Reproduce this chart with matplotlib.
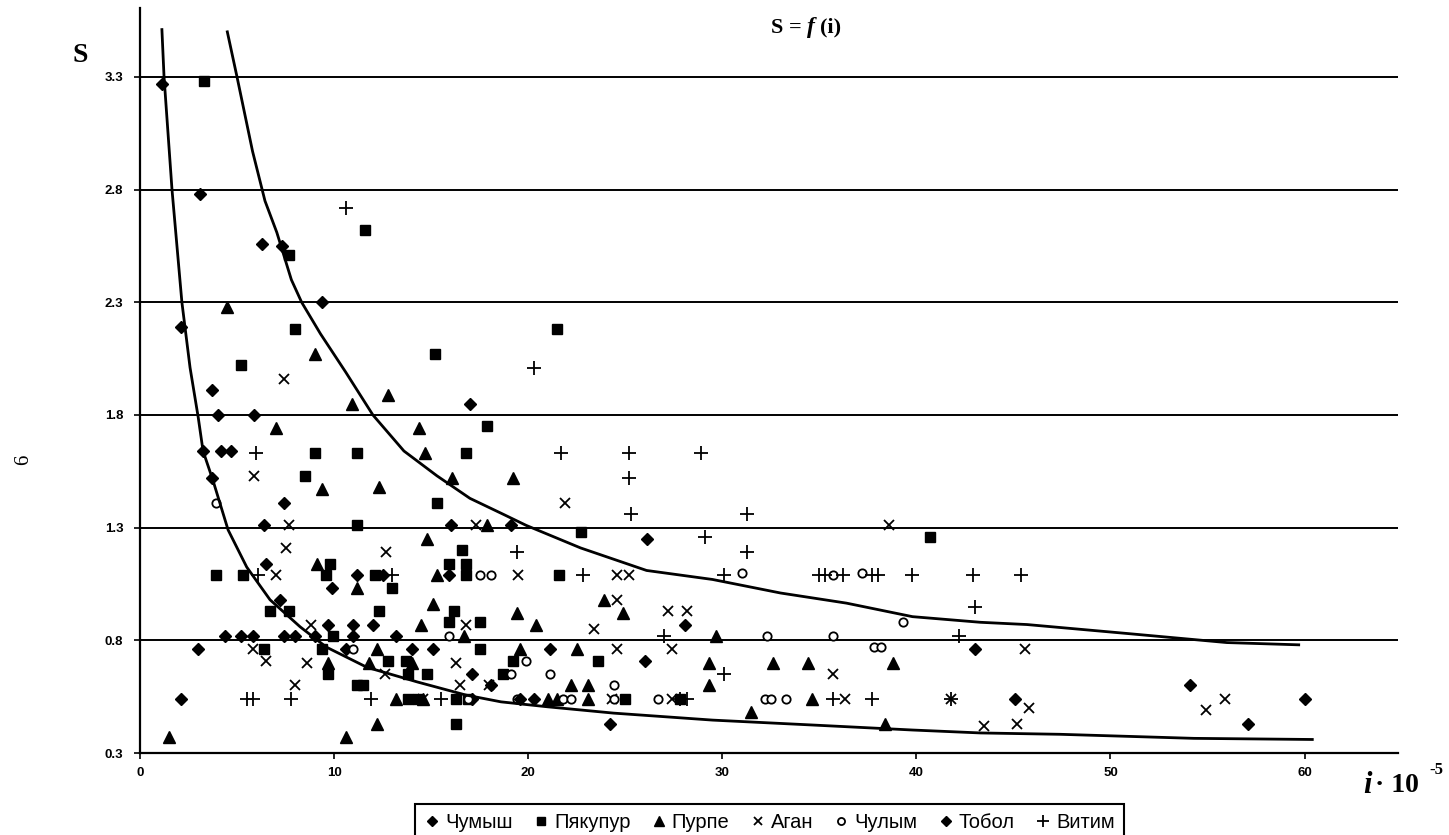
import matplotlib
matplotlib.use('Agg')
import matplotlib.pyplot as plt
from matplotlib.lines import Line2D

# --- scatter data (i*10^-5, S) ---
chumysh_x = [1.13, 3.1, 6.3, 7.3, 9.4, 2.1, 3.7, 17.0, 4.0, 5.9, 3.25, 4.2, 4.7, 3.7, 7.4, 6.4, 6.5,
             7.2, 9.9, 11.2, 12.5, 9.7, 11.0, 12.0, 16.0, 19.1, 15.9, 3.0, 2.1, 4.4, 5.2, 5.8, 7.4,
             8.0, 9.0, 11.0, 13.2, 10.6, 14.0, 15.1, 17.1, 18.1, 17.1]
chumysh_s = [3.27, 2.78, 2.56, 2.55, 2.30, 2.19, 1.91, 1.85, 1.80, 1.80, 1.64, 1.64, 1.64, 1.52, 1.41, 1.31, 1.14,
             0.98, 1.03, 1.09, 1.09, 0.87, 0.87, 0.87, 1.31, 1.31, 1.09, 0.76, 0.54, 0.82, 0.82, 0.82, 0.82,
             0.82, 0.82, 0.82, 0.82, 0.76, 0.76, 0.76, 0.65, 0.60, 0.54]

pyakupur_x = [3.3, 7.7, 11.6, 8.0, 5.2, 15.2, 21.5, 17.9, 9.0, 11.2, 16.8, 8.5, 15.3, 11.2, 16.6, 15.9,
              16.8, 9.8, 3.9, 5.3, 9.6, 16.8, 13.0, 6.7, 7.7, 12.3, 16.2, 15.9, 17.5, 9.95, 6.4, 9.4,
              17.5, 9.7, 12.8, 13.8, 14.8, 11.2, 11.5, 16.3, 13.8, 14.3, 16.3, 16.9, 22.7, 21.6, 40.7,
              23.6, 19.2, 18.7, 25.0, 27.8, 13.7, 12.1]
pyakupur_s = [3.28, 2.51, 2.62, 2.18, 2.02, 2.07, 2.18, 1.75, 1.63, 1.63, 1.63, 1.53, 1.41, 1.31, 1.20, 1.14,
              1.14, 1.14, 1.09, 1.09, 1.09, 1.09, 1.03, 0.93, 0.93, 0.93, 0.93, 0.88, 0.88, 0.82, 0.76, 0.76,
              0.76, 0.65, 0.71, 0.65, 0.65, 0.60, 0.60, 0.43, 0.54, 0.54, 0.54, 0.54, 1.28, 1.09, 1.26,
              0.71, 0.71, 0.65, 0.54, 0.54, 0.71, 1.09]

purpe_x = [4.5, 9.0, 12.8, 10.9, 7.0, 14.4, 14.7, 16.1, 9.4, 12.3, 17.9, 14.8, 9.1, 11.2, 15.3, 15.1,
           14.5, 16.7, 12.2, 9.7, 11.8, 14.0, 13.2, 14.6, 12.2, 10.6, 1.5, 19.2, 23.9, 24.9, 19.4, 20.4,
           29.7, 19.6, 22.5, 29.3, 32.6, 34.4, 38.8, 29.3, 22.2, 23.1, 23.1, 34.6, 31.5, 38.4, 21.0, 21.5]
purpe_s = [2.28, 2.07, 1.89, 1.85, 1.74, 1.74, 1.63, 1.52, 1.47, 1.48, 1.31, 1.25, 1.14, 1.03, 1.09, 0.96,
           0.87, 0.82, 0.76, 0.70, 0.70, 0.70, 0.54, 0.54, 0.43, 0.37, 0.37, 1.52, 0.98, 0.92, 0.92, 0.87,
           0.82, 0.76, 0.76, 0.70, 0.70, 0.70, 0.70, 0.60, 0.60, 0.60, 0.54, 0.54, 0.48, 0.43, 0.54, 0.54]

agan_x = [7.4, 5.9, 7.7, 7.5, 12.7, 17.3, 7.0, 8.8, 5.8, 6.5, 8.6, 8.0, 16.8, 16.3, 16.5, 12.6, 14.6,
          19.5, 21.9, 24.6, 25.2, 24.6, 27.2, 28.2, 23.4, 24.6, 27.4, 38.6, 35.7, 36.3, 24.3, 27.4,
          18.0, 41.8, 45.6, 45.8, 45.2, 43.5, 54.9, 55.9]
agan_s = [1.96, 1.53, 1.31, 1.21, 1.19, 1.31, 1.09, 0.87, 0.76, 0.71, 0.70, 0.60, 0.87, 0.70, 0.60, 0.65, 0.54,
          1.09, 1.41, 1.09, 1.09, 0.98, 0.93, 0.93, 0.85, 0.76, 0.76, 1.31, 0.65, 0.54, 0.54, 0.54,
          0.60, 0.54, 0.76, 0.50, 0.43, 0.42, 0.49, 0.54]

chulym_x = [3.9, 17.5, 18.1, 15.9, 11.0, 31.0, 35.7, 37.2, 39.3, 32.3, 35.7, 37.8, 38.2, 19.9, 21.1,
            19.1, 24.4, 19.4, 21.8, 22.2, 24.4, 26.7, 32.2, 32.5, 33.3, 16.9]
chulym_s = [1.41, 1.09, 1.09, 0.82, 0.76, 1.10, 1.09, 1.10, 0.88, 0.82, 0.82, 0.77, 0.77, 0.71, 0.65,
            0.65, 0.60, 0.54, 0.54, 0.54, 0.54, 0.54, 0.54, 0.54, 0.54, 0.54]

tobol_x = [26.1, 28.1, 21.1, 26.0, 24.2, 19.6, 20.3, 43.0, 45.1, 54.1, 57.1, 60.0]
tobol_s = [1.25, 0.87, 0.76, 0.71, 0.43, 0.54, 0.54, 0.76, 0.54, 0.60, 0.43, 0.54]

vitim_x = [10.6, 20.3, 6.0, 6.1, 13.0, 5.5, 7.8, 11.9, 15.5, 19.4, 21.7, 25.2, 28.9, 25.2, 25.3, 31.3,
           29.1, 31.3, 22.8, 30.1, 35.0, 35.3, 36.2, 37.7, 38.0, 39.8, 42.9, 45.4, 43.0, 27.0, 42.2,
           30.1, 27.8, 28.2, 35.7, 37.7, 41.8, 5.8]
vitim_s = [2.72, 2.01, 1.63, 1.09, 1.09, 0.54, 0.54, 0.54, 0.54, 1.19, 1.63, 1.63, 1.63, 1.52, 1.36, 1.36,
           1.26, 1.19, 1.09, 1.09, 1.09, 1.09, 1.09, 1.09, 1.09, 1.09, 1.09, 1.09, 0.95, 0.82, 0.82,
           0.65, 0.54, 0.54, 0.54, 0.54, 0.54, 0.54]

# --- envelope curves ---
lower_x = [1.13, 1.24, 1.65, 2.16, 2.58, 3.0, 3.25, 3.76, 4.54, 5.5, 6.7, 8.25, 9.6, 11.7, 14.3,
           16.8, 18.6, 21.0, 24.4, 29.5, 34.7, 39.8, 43.3, 47.4, 54.3, 60.4]
lower_s = [3.51, 3.30, 2.80, 2.30, 2.01, 1.79, 1.64, 1.51, 1.29, 1.125, 0.98, 0.86, 0.77, 0.68, 0.615,
           0.557, 0.527, 0.505, 0.477, 0.446, 0.424, 0.402, 0.389, 0.383, 0.365, 0.36]
upper_x = [4.5, 5.0, 5.8, 6.44, 7.05, 7.8, 8.33, 9.3, 10.6, 12.0, 13.6, 15.3, 17.0, 18.7, 19.9, 22.7,
           26.1, 29.5, 33.0, 36.4, 39.8, 43.3, 45.7, 50.9, 56.0, 59.7]
upper_s = [3.5, 3.3, 2.97, 2.75, 2.61, 2.40, 2.30, 2.16, 1.99, 1.80, 1.64, 1.53, 1.43, 1.36, 1.31, 1.21,
           1.11, 1.07, 1.01, 0.965, 0.905, 0.88, 0.87, 0.83, 0.79, 0.78]

yticks = [0.3, 0.8, 1.3, 1.8, 2.3, 2.8, 3.3]
xticks = [0, 10, 20, 30, 40, 50, 60]

serif = 'Liberation Serif'
sans = ['Liberation Sans Narrow', 'Liberation Sans']

fig = plt.figure(figsize=(14.49, 8.35), dpi=100)
ax = fig.add_axes([0.0966, 0.0982, 0.868, 0.892])

series = [
    ('Чумыш', chumysh_x, chumysh_s, dict(marker='D', ms=6.5, mfc='black', mec='black')),
    ('Пякупур', pyakupur_x, pyakupur_s, dict(marker='s', ms=6.5, mfc='black', mec='black')),
    ('Пурпе', purpe_x, purpe_s, dict(marker='^', ms=8, mfc='black', mec='black')),
    ('Аган', agan_x, agan_s, dict(marker='x', ms=7.5, mew=1.3, color='black')),
    ('Чулым', chulym_x, chulym_s, dict(marker='o', ms=6, mfc='white', mec='black', mew=1.3)),
    ('Тобол', tobol_x, tobol_s, dict(marker='D', ms=6.5, mfc='black', mec='black')),
    ('Витим', vitim_x, vitim_s, dict(marker='+', ms=10, mew=1.3, color='black')),
]
handles = []
for name, xs, ss, st in series:
    ax.plot(xs, ss, ls='none', zorder=3, **st)
    handles.append(Line2D([], [], ls='none', label=name,
                          **{**st, 'ms': st['ms'] * 0.85}))

ax.plot(lower_x, lower_s, color='black', lw=2.0, zorder=4)
ax.plot(upper_x, upper_s, color='black', lw=2.0, zorder=4)

ax.set_xlim(0, 64.8)
ax.set_ylim(0.3, 3.605)
ax.set_xticks(xticks)
ax.set_yticks(yticks)
ax.set_yticklabels([f'{v:.1f}' for v in yticks])
ax.yaxis.grid(True, color='black', lw=1.4)
ax.set_axisbelow(True)
for sp in ['top', 'right']:
    ax.spines[sp].set_visible(False)
for sp in ['left', 'bottom']:
    ax.spines[sp].set_linewidth(1.6)
ax.tick_params(axis='both', direction='out', length=4, width=1.2, labelsize=9.5)
ax.tick_params(axis='y', pad=8)
ax.tick_params(axis='x', pad=6)
for lab in ax.get_xticklabels() + ax.get_yticklabels():
    lab.set_fontweight('bold')
    lab.set_family(sans)

fig.text(0.557, 0.967, 'S = ', fontsize=16, fontweight='bold', family=serif, ha='right', va='center')
fig.text(0.557, 0.967, 'f', fontsize=17, fontweight='bold', style='italic', family=serif, ha='left', va='center')
fig.text(0.566, 0.967, '(i)', fontsize=16, fontweight='bold', family=serif, ha='left', va='center')
fig.text(0.055, 0.934, 'S', fontsize=20, fontweight='bold', family=serif, ha='center', va='center')
fig.text(0.016, 0.449, '6', fontsize=15, family=serif, rotation=90, ha='center', va='center')

# axis label i·10^-5 at the right end of the x axis
fig.text(0.9435, 0.059, 'i', fontsize=22, fontweight='bold', style='italic', family=serif, ha='center', va='center')
fig.text(0.949, 0.059, '· 10', fontsize=20, fontweight='bold', family=serif, ha='left', va='center')
fig.text(0.9865, 0.078, '-5', fontsize=12, fontweight='bold', family=serif, ha='left', va='center')

leg = fig.legend(handles=handles, loc='upper center', bbox_to_anchor=(0.531, 0.049), ncol=7,
                 frameon=True, fancybox=False, edgecolor='black', framealpha=1,
                 handlelength=0.8, handletextpad=0.25, columnspacing=1.0, borderpad=0.45,
                 prop={'family': sans, 'size': 14.5})
leg.get_frame().set_linewidth(1.5)

fig.savefig('out.png', dpi=100)
